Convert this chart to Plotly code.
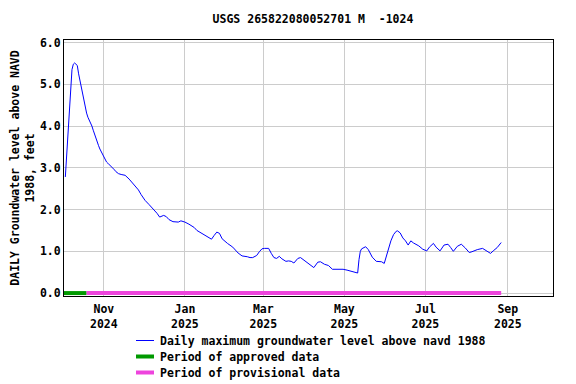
import plotly.graph_objects as go

# Daily maximum groundwater level (feet above NAVD 1988)
dates = [
    "2024-10-03", "2024-10-04", "2024-10-05", "2024-10-06", "2024-10-07", "2024-10-08",
    "2024-10-09", "2024-10-10", "2024-10-11", "2024-10-12", "2024-10-13", "2024-10-14",
    "2024-10-15", "2024-10-16", "2024-10-17", "2024-10-18", "2024-10-19", "2024-10-20",
    "2024-10-21", "2024-10-22", "2024-10-23", "2024-10-24", "2024-10-25", "2024-10-26",
    "2024-10-27", "2024-10-28", "2024-10-29", "2024-10-30", "2024-10-31", "2024-11-01",
    "2024-11-02", "2024-11-03", "2024-11-04", "2024-11-05", "2024-11-06", "2024-11-07",
    "2024-11-08", "2024-11-09", "2024-11-10", "2024-11-11", "2024-11-12", "2024-11-14",
    "2024-11-17", "2024-11-20", "2024-11-24", "2024-11-27", "2024-11-29", "2024-12-02",
    "2024-12-05", "2024-12-09", "2024-12-11", "2024-12-13", "2024-12-15", "2024-12-16",
    "2024-12-18", "2024-12-20", "2024-12-23", "2024-12-27", "2024-12-29", "2025-01-01",
    "2025-01-04", "2025-01-08", "2025-01-10", "2025-01-14", "2025-01-18", "2025-01-21",
    "2025-01-23", "2025-01-25", "2025-01-27", "2025-01-29", "2025-02-02", "2025-02-06",
    "2025-02-10", "2025-02-13", "2025-02-17", "2025-02-19", "2025-02-21", "2025-02-24",
    "2025-02-26", "2025-02-28", "2025-03-02", "2025-03-05", "2025-03-07", "2025-03-09",
    "2025-03-11", "2025-03-13", "2025-03-15", "2025-03-18", "2025-03-20", "2025-03-22",
    "2025-03-24", "2025-03-27", "2025-03-29", "2025-04-01", "2025-04-04", "2025-04-07",
    "2025-04-08", "2025-04-11", "2025-04-13", "2025-04-16", "2025-04-19", "2025-04-22",
    "2025-04-30", "2025-05-03", "2025-05-07", "2025-05-11", "2025-05-12", "2025-05-13",
    "2025-05-14", "2025-05-16", "2025-05-17", "2025-05-19", "2025-05-22", "2025-05-25",
    "2025-05-29", "2025-05-31", "2025-06-01", "2025-06-02", "2025-06-03", "2025-06-05",
    "2025-06-07", "2025-06-09", "2025-06-10", "2025-06-12", "2025-06-14", "2025-06-16",
    "2025-06-18", "2025-06-20", "2025-06-22", "2025-06-26", "2025-06-29", "2025-07-02",
    "2025-07-04", "2025-07-07", "2025-07-09", "2025-07-12", "2025-07-15", "2025-07-18",
    "2025-07-20", "2025-07-22", "2025-07-25", "2025-07-28", "2025-07-31", "2025-08-03",
    "2025-08-05", "2025-08-09", "2025-08-13", "2025-08-16", "2025-08-19", "2025-08-21",
    "2025-08-24", "2025-08-27",
]
levels = [
    2.78, 3.35, 3.70, 4.35, 5.00, 5.35,
    5.48, 5.51, 5.48, 5.45, 5.25, 5.08,
    4.91, 4.75, 4.57, 4.44, 4.31, 4.21,
    4.15, 4.06, 4.00, 3.90, 3.80, 3.69,
    3.60, 3.53, 3.45, 3.39, 3.33, 3.28,
    3.19, 3.14, 3.11, 3.08, 3.05, 3.03,
    2.99, 2.95, 2.91, 2.88, 2.86, 2.84,
    2.82, 2.73, 2.58, 2.47, 2.36, 2.22,
    2.12, 1.99, 1.91, 1.82, 1.84, 1.86,
    1.83, 1.76, 1.71, 1.70, 1.73, 1.70,
    1.65, 1.57, 1.50, 1.43, 1.35, 1.29,
    1.38, 1.46, 1.43, 1.30, 1.19, 1.10,
    0.96, 0.89, 0.87, 0.85, 0.85, 0.90,
    0.99, 1.06, 1.07, 1.07, 0.95, 0.85,
    0.83, 0.88, 0.82, 0.76, 0.77, 0.76,
    0.72, 0.83, 0.85, 0.78, 0.69, 0.63,
    0.61, 0.74, 0.75, 0.69, 0.66, 0.57,
    0.57, 0.55, 0.51, 0.48, 0.80, 1.00,
    1.06, 1.10, 1.11, 1.04, 0.86, 0.76,
    0.75, 0.71, 0.82, 0.92, 1.02, 1.25,
    1.40, 1.48, 1.49, 1.44, 1.32, 1.25,
    1.15, 1.25, 1.20, 1.13, 1.05, 1.01,
    1.10, 1.19, 1.10, 1.01, 1.15, 1.17,
    1.09, 1.00, 1.12, 1.17, 1.08, 0.97,
    0.99, 1.04, 1.07, 1.01, 0.95, 1.01,
    1.09, 1.21,
]

approved_dates = ["2024-10-02", "2024-10-19"]
approved_vals = [0, 0]
provisional_dates = ["2024-10-19", "2025-08-27"]
provisional_vals = [0, 0]

tick_dates = ["2024-11-01", "2025-01-01", "2025-03-01", "2025-05-01", "2025-07-01", "2025-09-01"]
tick_months = ["Nov", "Jan", "Mar", "May", "Jul", "Sep"]
tick_years = ["2024", "2025", "2025", "2025", "2025", "2025"]
y_ticks = [0, 1, 2, 3, 4, 5, 6]
y_text = ["0.0", "1.0", "2.0", "3.0", "4.0", "5.0", "6.0"]

legend_names = [
    "Daily maximum groundwater level above navd 1988",
    "Period of approved data",
    "Period of provisional data",
]
colors = ["#0000FF", "#009900", "#EE44DD"]
widths = [1, 4, 4]

FONT = "DejaVu Sans Mono"
OFF = 8  # page body margin offset
W, H = 576 - OFF, 384 - OFF
ML, MR, MT, MB = 64 - OFF, 23, 40 - OFF, 88
PW, PH = W - ML - MR, H - MT - MB


def px_x(px):
    return (px - OFF - ML) / PW


def px_y(py):
    return (H - MB - (py - OFF)) / PH


fig = go.Figure()
fig.add_trace(go.Scatter(x=dates, y=levels, mode="lines",
                         line=dict(color=colors[0], width=widths[0]),
                         name=legend_names[0], showlegend=False))
fig.add_trace(go.Scatter(x=approved_dates, y=approved_vals, mode="lines",
                         line=dict(color=colors[1], width=widths[1]),
                         name=legend_names[1], showlegend=False))
fig.add_trace(go.Scatter(x=provisional_dates, y=provisional_vals, mode="lines",
                         line=dict(color=colors[2], width=widths[2]),
                         name=legend_names[2], showlegend=False))

# legend drawn manually (compact rows like the reference)
shapes = []
annotations = []
for i, (nm, c, w) in enumerate(zip(legend_names, colors, widths)):
    row_y = 340.5 + 16 * i
    shapes.append(dict(type="line", xref="paper", yref="paper",
                       x0=px_x(136), x1=px_x(154), y0=px_y(row_y), y1=px_y(row_y),
                       line=dict(color=c, width=w)))
    annotations.append(dict(xref="paper", yref="paper", x=px_x(158), y=px_y(row_y),
                            xanchor="left", yanchor="middle", showarrow=False,
                            text=f"<b>{nm}</b>", font=dict(family=FONT, size=11.5)))

fig.update_layout(
    width=W, height=H,
    margin=dict(l=ML, r=MR, t=MT, b=MB, autoexpand=False),
    paper_bgcolor="white", plot_bgcolor="white",
    font=dict(family=FONT, size=11.5, color="black"),
    title=dict(text="<b>USGS 265822080052701 M  -1024</b>", x=(313 - OFF) / W, xanchor="center",
               y=1 - (19 - OFF) / H, yanchor="middle", font=dict(family=FONT, size=11.5)),
    showlegend=False,
    shapes=shapes,
    annotations=annotations,
    xaxis=dict(
        type="date", range=["2024-10-02", "2025-10-05"],
        tickmode="array", tickvals=tick_dates,
        ticktext=[f"<b>{m}</b><br><b>{y}</b>" for m, y in zip(tick_months, tick_years)],
        showgrid=True, gridcolor="#CCCCCC", gridwidth=1,
        showline=True, linecolor="black", linewidth=1, mirror=True,
        ticks="outside", ticklen=2, tickcolor="rgba(0,0,0,0)", zeroline=False,
        automargin=False,
        tickfont=dict(family=FONT, size=11.5),
    ),
    yaxis=dict(
        range=[-0.07, 6.06],
        tickmode="array", tickvals=y_ticks, ticktext=[f"<b>{t}</b>" for t in y_text],
        showgrid=True, gridcolor="#CCCCCC", gridwidth=1,
        showline=True, linecolor="black", linewidth=1, mirror=True,
        ticks="", zeroline=False, automargin=False,
        tickfont=dict(family=FONT, size=11.5),
        title=dict(text="<b>DAILY Groundwater level above NAVD<br>1988, feet</b>",
                   font=dict(family=FONT, size=11.5), standoff=10),
    ),
)

fig.write_html("out.html")
